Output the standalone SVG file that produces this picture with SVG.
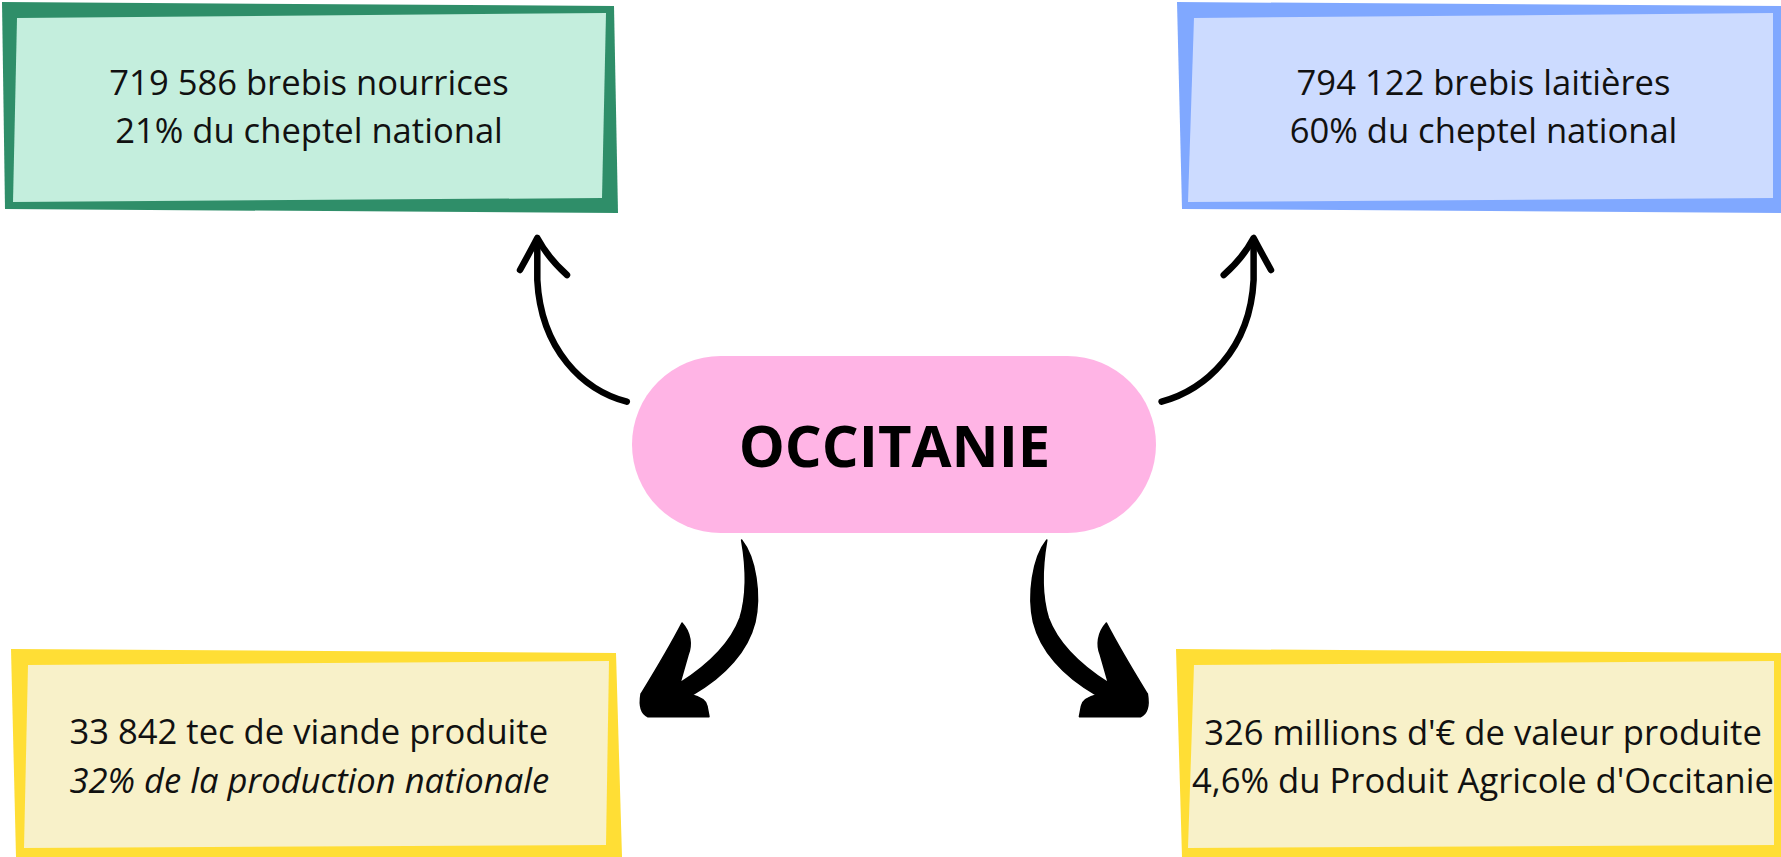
<svg xmlns="http://www.w3.org/2000/svg" width="1781" height="857" viewBox="0 0 1781 857">
<style>
.t{font-family:"Open Sans","Liberation Sans",sans-serif;font-size:34.6px;fill:#111}
.c{text-anchor:middle}
.i{font-style:italic}
.title{font-family:"Open Sans","Liberation Sans",sans-serif;font-weight:bold;font-size:58px;fill:#000;text-anchor:middle}
.green-b{fill:#2F8E69}.green-f{fill:#C4EEDD}
.blue-b{fill:#80A8FF}.blue-f{fill:#CCDBFF}
.yel-b{fill:#FFDE35}.yel-f{fill:#F8F1C9}
.thin{fill:none;stroke:#000;stroke-width:6.5;stroke-linecap:round;stroke-linejoin:round}
.fat{fill:#000;stroke:#000;stroke-width:1.5;stroke-linejoin:round}
</style>
<rect width="1781" height="857" fill="#fff"/>
<g id="node-nourrices">
<polygon class="green-b" points="2,2 614,6 618,213 5,209"/>
<polygon class="green-f" points="17,18 606,13 602,198 13,202"/>
<text class="t c" x="309" y="95">719 586 brebis nourrices</text>
<text class="t c" x="309" y="143">21% du cheptel national</text>
</g>
<g id="node-laitieres">
<polygon class="blue-b" points="1177,2 1781,6 1781,213 1182,209"/>
<polygon class="blue-f" points="1194,18 1773,13 1773,198 1188,202"/>
<text class="t c" x="1483.5" y="95">794 122 brebis laitières</text>
<text class="t c" x="1483.5" y="143">60% du cheptel national</text>
</g>
<g id="node-viande">
<polygon class="yel-b" points="11,649 616,653 622,857 16,857"/>
<polygon class="yel-f" points="28,665 609,661 606,845 24,848"/>
<text class="t" x="69.5" y="744">33 842 tec de viande produite</text>
<text class="t i" x="69.5" y="793">32% de la production nationale</text>
</g>
<g id="node-valeur">
<polygon class="yel-b" points="1176,649 1781,653 1781,857 1182,857"/>
<polygon class="yel-f" points="1194,665 1774,661 1774,845 1188,848"/>
<text class="t c" x="1483" y="745">326 millions d'€ de valeur produite</text>
<text class="t c" x="1483" y="793">4,6% du Produit Agricole d'Occitanie</text>
</g>
<g id="node-occitanie">
<rect x="632" y="356" width="524" height="177" rx="88.5" ry="88.5" fill="#FFB4E5"/>
<text class="title" x="894.5" y="466.7">OCCITANIE</text>
</g>
<g id="connectors">
<path class="thin" d="M626.8 401.7 C583 390 541 350 537.3 280 L537.3 240"/>
<path class="thin" d="M520 270 Q530 252 537.3 238 Q548 258 567 275"/>
<path class="thin" d="M1161.6 401.7 C1205 390 1250 350 1253.6 280 L1253.6 240"/>
<path class="thin" d="M1271 270 Q1261 252 1253.6 238 Q1243 258 1223.7 275"/>
<path id="fat-left" class="fat" d="M741.6 540 C756 558 761 595 755 622 C748 650 726 676 692 695 C700 697 706 700 707 706 L709 716.7 L648 716.7 C642 714 639 706 641 694 C652 676 668 650 682 623 C691 633 692 645 688 655 L680 683 C705 667 730 645 740 618 C747 595 746 565 741.6 540 Z"/>
<path class="fat" transform="translate(1788.4 0) scale(-1 1)" d="M741.6 540 C756 558 761 595 755 622 C748 650 726 676 692 695 C700 697 706 700 707 706 L709 716.7 L648 716.7 C642 714 639 706 641 694 C652 676 668 650 682 623 C691 633 692 645 688 655 L680 683 C705 667 730 645 740 618 C747 595 746 565 741.6 540 Z"/>
</g>
</svg>
